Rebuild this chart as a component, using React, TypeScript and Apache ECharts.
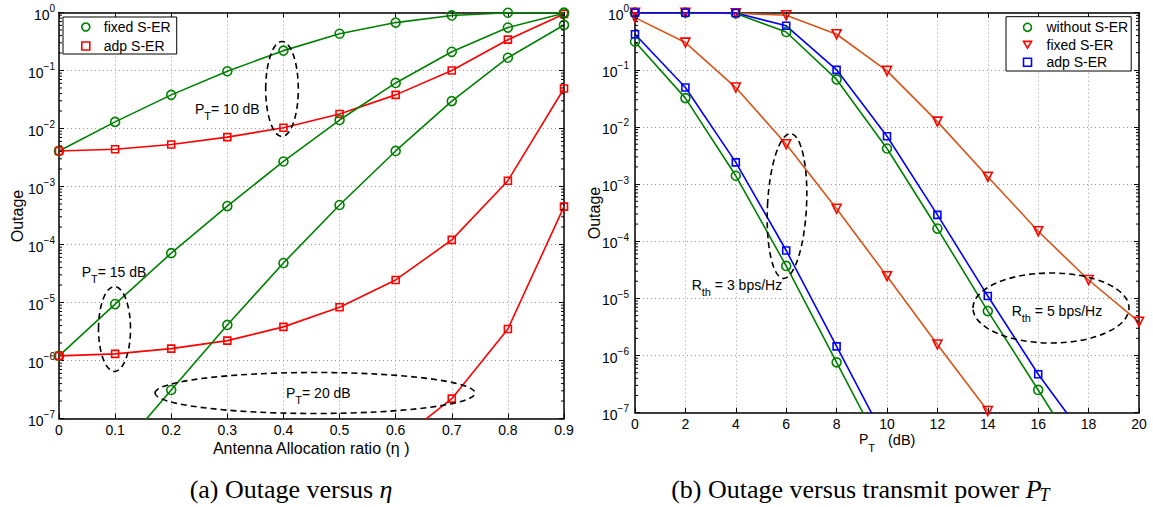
import React, { useEffect, useRef } from "react";
import * as echarts from "echarts";

// ---------- data ----------
const ETA = [0, 0.1, 0.2, 0.3, 0.4, 0.5, 0.6, 0.7, 0.8, 0.9];
// left panel (outage vs eta), three transmit powers
const FIXED_PT10 = [4.1e-3, 1.3e-2, 3.8e-2, 9.7e-2, 0.22, 0.43, 0.67, 0.89, 0.99, 1.0];
const ADP_PT10 = [4.1e-3, 4.4e-3, 5.3e-3, 7.1e-3, 1.03e-2, 1.78e-2, 3.8e-2, 0.1, 0.34, 0.94];
const FIXED_PT15 = [1.2e-6, 9.4e-6, 7.1e-5, 4.6e-4, 2.7e-3, 1.4e-2, 6.1e-2, 0.21, 0.55, 0.97];
const ADP_PT15 = [1.2e-6, 1.3e-6, 1.6e-6, 2.2e-6, 3.8e-6, 8.3e-6, 2.45e-5, 1.2e-4, 1.26e-3, 4.9e-2];
const FIXED_PT20 = [null, 2.3e-8, 3.1e-7, 4.1e-6, 4.8e-5, 4.8e-4, 4.1e-3, 2.97e-2, 0.166, 0.61];
const ADP_PT20 = [null, null, null, null, null, null, 3.8e-8, 2.2e-7, 3.5e-6, 4.5e-4];

const PT = [0, 2, 4, 6, 8, 10, 12, 14, 16, 18, 20];
// right panel (outage vs P_T), two rate thresholds
const WITHOUT_R3 = [0.31, 0.032, 1.4e-3, 3.7e-5, 7.6e-7, 1.55e-8, null, null, null, null, null];
const FIXED_R3 = [0.82, 0.3, 0.049, 5.0e-3, 3.7e-4, 2.45e-5, 1.56e-6, 1.07e-7, null, null, null];
const ADP_R3 = [0.42, 0.049, 2.4e-3, 6.9e-5, 1.45e-6, 3.0e-8, null, null, null, null, null];
const WITHOUT_R5 = [1.0, 1.0, 0.97, 0.46, 0.068, 4.2e-3, 1.67e-4, 6.0e-6, 2.5e-7, 1.0e-8, null];
const FIXED_R5 = [1.0, 1.0, 0.98, 0.9, 0.42, 0.096, 1.24e-2, 1.35e-3, 1.5e-4, 2.1e-5, 3.9e-6];
const ADP_R5 = [1.0, 1.0, 0.99, 0.59, 0.1, 6.9e-3, 2.9e-4, 1.1e-5, 4.7e-7, 3.0e-8, null];

const SANS = "'Liberation Sans', Arial, Helvetica, sans-serif";
const SERIF = "'Liberation Serif', 'Times New Roman', serif";
const GREEN = "#008000";
const RED = "#ff0000";
const BLUE = "#0000ff";
const ORANGE = "#d95319";
const TRI = "path://M0,0L10,0L5,8.66Z";

function pairs(xs: number[], ys: (number | null)[]) {
  return xs.map((x, i) => [x, ys[i]]).filter((p) => p[1] != null);
}

let measureCtx: CanvasRenderingContext2D | null = null;
function tw(text: string, size: number, family: string, italic = false) {
  if (!measureCtx) measureCtx = document.createElement("canvas").getContext("2d");
  measureCtx!.font = `${italic ? "italic " : ""}${size}px ${family}`;
  return measureCtx!.measureText(text).width;
}

function txt(x: number, y: number, text: string, size: number, family = SANS, italic = false, align = "left") {
  return {
    type: "text",
    x,
    y,
    z: 100,
    style: {
      text,
      fontSize: size,
      fontFamily: family,
      fontStyle: italic ? "italic" : "normal",
      fill: "#000",
      align,
      verticalAlign: "middle",
    },
  };
}

function subLabel(x: number, yc: number, main: string, sub: string, rest: string, size = 14, subSize = 11, dy = 7) {
  const w1 = tw(main, size, SANS);
  const w2 = tw(sub, subSize, SANS);
  const out: any[] = [txt(x, yc, main, size), txt(x + w1, yc + dy, sub, subSize)];
  if (rest) out.push(txt(x + w1 + w2, yc, rest, size));
  return out;
}

function ellipse(cx: number, cy: number, rx: number, ry: number, rotation = 0) {
  return {
    type: "ellipse",
    x: cx,
    y: cy,
    rotation,
    z: 90,
    shape: { cx: 0, cy: 0, rx, ry },
    style: { fill: "none", stroke: "#000", lineWidth: 1.6, lineDash: [6, 4] },
  };
}

const axisLineStyle = { show: true, onZero: false, lineStyle: { color: "#000", width: 1.5 } };
const tickStyle = { show: true, inside: true, length: 5, lineStyle: { color: "#000", width: 1 } };
const gridLine = { show: true, lineStyle: { color: "#9a9a9a", width: 1, type: [1, 3] } };

function logLabel(v: number) {
  const e = Math.round(Math.log10(v));
  return `{b|10}{s|${e < 0 ? "\u2212" : ""}${Math.abs(e)}}`;
}
const logRich = {
  b: { fontSize: 14, fontFamily: SANS, color: "#000", lineHeight: 18, verticalAlign: "bottom" },
  s: { fontSize: 10, fontFamily: SANS, color: "#000", lineHeight: 10, verticalAlign: "top" },
};

function xAxes(grid: number, min: number, max: number, interval: number, fmt: (v: number) => string) {
  return [
    {
      gridIndex: grid,
      type: "value",
      min,
      max,
      interval,
      position: "bottom",
      axisLine: axisLineStyle,
      axisTick: tickStyle,
      axisLabel: { show: true, fontSize: 14, fontFamily: SANS, color: "#000", margin: 4, formatter: fmt },
      splitLine: gridLine,
    },
    {
      gridIndex: grid,
      type: "value",
      min,
      max,
      interval,
      position: "top",
      axisLine: axisLineStyle,
      axisTick: tickStyle,
      axisLabel: { show: false },
      splitLine: { show: false },
    },
  ];
}

function yAxes(grid: number, margin: number) {
  return [
    {
      gridIndex: grid,
      type: "log",
      logBase: 10,
      min: 1e-7,
      max: 1,
      splitNumber: 7,
      position: "left",
      axisLine: axisLineStyle,
      axisTick: tickStyle,
      axisLabel: { show: true, margin, formatter: logLabel, rich: logRich },
      splitLine: gridLine,
    },
    {
      gridIndex: grid,
      type: "log",
      logBase: 10,
      min: 1e-7,
      max: 1,
      splitNumber: 7,
      position: "right",
      axisLine: axisLineStyle,
      axisTick: tickStyle,
      axisLabel: { show: false },
      splitLine: { show: false },
    },
  ];
}

function lineSeries(name: string, xi: number, data: any[], lineColor: string, markColor: string, symbol: string, size: number) {
  return {
    type: "line",
    name,
    xAxisIndex: xi,
    yAxisIndex: xi,
    data,
    clip: true,
    symbol,
    symbolSize: size,
    showAllSymbol: true,
    lineStyle: { color: lineColor, width: 1.6 },
    itemStyle: { color: "rgba(0,0,0,0)", borderColor: markColor, borderWidth: 1.6 },
    emphasis: { disabled: true },
    z: 3,
  };
}

function minorTicks(axisIndex: number) {
  return {
    type: "custom",
    xAxisIndex: axisIndex,
    yAxisIndex: axisIndex,
    data: [[0, 1]],
    silent: true,
    clip: false,
    z: 6,
    renderItem: (params: any, api: any) => {
      const cs = params.coordSys;
      const children: any[] = [];
      for (let k = -7; k < 0; k++) {
        for (let m = 2; m < 10; m++) {
          const y = api.coord([0, m * Math.pow(10, k)])[1];
          children.push({ type: "line", shape: { x1: cs.x, y1: y, x2: cs.x + 3, y2: y }, style: { stroke: "#000", lineWidth: 1 } });
          children.push({
            type: "line",
            shape: { x1: cs.x + cs.width - 3, y1: y, x2: cs.x + cs.width, y2: y },
            style: { stroke: "#000", lineWidth: 1 },
          });
        }
      }
      return { type: "group", children };
    },
  };
}

function legendItem(name: string, icon: string, color: string) {
  return { name, icon, itemStyle: { color: "rgba(0,0,0,0)", borderColor: color, borderWidth: 1.6 } };
}

export default function App() {
  const ref = useRef<HTMLDivElement>(null);
  useEffect(() => {
    const chart = echarts.init(ref.current!, undefined, { renderer: "svg" });

    const CAP = 26;
    const capA = "(a) Outage versus ";
    const capB = "(b) Outage versus transmit power ";
    const capAX = 225 - tw("(a) ", CAP, SERIF);
    const capBX = 708 - tw("(b) ", CAP, SERIF);
    const capAW = tw(capA, CAP, SERIF);
    const capBW = tw(capB, CAP, SERIF);
    const pItW = tw("P", CAP, SERIF, true);
    const capY = 489;

    const graphic: any[] = [
      ellipse(282, 89, 16.3, 47.5),
      ellipse(114.5, 329, 16, 42.5),
      ellipse(315, 393, 160, 20.5),
      ellipse(787, 206, 19.5, 72.5, -0.05),
      ellipse(1051, 308, 78, 35),
      ...subLabel(195, 109, "P", "T", "= 10 dB"),
      ...subLabel(81.7, 272.3, "P", "T", "= 15 dB"),
      ...subLabel(286, 393.3, "P", "T", "= 20 dB"),
      ...subLabel(691.7, 285, "R", "th", " = 3 bps/Hz"),
      ...subLabel(1011.7, 310.7, "R", "th", " = 5 bps/Hz"),
      { ...txt(17, 216, "Outage", 16, SANS, false, "center"), rotation: Math.PI / 2 },
      { ...txt(594, 213, "Outage", 16, SANS, false, "center"), rotation: Math.PI / 2 },
      txt(311.2, 448.3, "Antenna Allocation ratio (\u03b7 )", 16, SANS, false, "center"),
      ...subLabel(859, 439, "P", "T", "", 14, 11, 9),
      txt(888, 440, "(dB)", 14.5),
      txt(capAX, capY, capA, CAP, SERIF),
      txt(capAX + capAW, capY, "\u03b7", CAP, SERIF, true),
      txt(capBX, capY, capB, CAP, SERIF),
      txt(capBX + capBW, capY, "P", CAP, SERIF, true),
      txt(capBX + capBW + pItW - 2, capY + 6, "T", 18, SERIF, true),
    ];

    const option: any = {
      animation: false,
      backgroundColor: "#fff",
      grid: [
        { left: 59, top: 12.5, width: 505, height: 406, containLabel: false },
        { left: 635, top: 12.7, width: 504, height: 400, containLabel: false },
      ],
      xAxis: [
        ...xAxes(0, 0, 0.9, 0.1, (v: number) => (Math.abs(v) < 1e-9 ? "0" : v.toFixed(1))),
        ...xAxes(1, 0, 20, 2, (v: number) => String(Math.round(v))),
      ],
      yAxis: [...yAxes(0, 4), ...yAxes(1, 6)],
      legend: [
        {
          orient: "vertical",
          left: 63,
          top: 17,
          padding: [3, 6, 1, 18],
          itemWidth: 8,
          itemHeight: 8,
          itemGap: 5,
          backgroundColor: "#fff",
          borderColor: "#000",
          borderWidth: 1,
          borderRadius: 0,
          selectedMode: false,
          textStyle: { fontSize: 14, fontFamily: SANS, color: "#000", lineHeight: 14, padding: [0, 0, 0, 9] },
          data: [legendItem("fixed S-ER", "circle", GREEN), legendItem("adp S-ER", "rect", RED)],
          z: 20,
        },
        {
          orient: "vertical",
          left: 1006,
          top: 16.7,
          padding: [3.6, 3, 1.7, 16.7],
          itemWidth: 8,
          itemHeight: 8,
          itemGap: 3.5,
          backgroundColor: "#fff",
          borderColor: "#000",
          borderWidth: 1,
          borderRadius: 0,
          selectedMode: false,
          formatter: (n: string) => n.trim(),
          textStyle: { fontSize: 14, fontFamily: SANS, color: "#000", lineHeight: 14, padding: [0, 0, 0, 10] },
          data: [
            legendItem("without S-ER", "circle", GREEN),
            legendItem("fixed S-ER ", TRI, RED),
            legendItem("adp S-ER ", "rect", BLUE),
          ],
          z: 20,
        },
      ],
      graphic,
      series: [
        minorTicks(0),
        minorTicks(2),
        lineSeries("fixed S-ER", 0, pairs(ETA, FIXED_PT10), GREEN, GREEN, "circle", 9),
        lineSeries("adp S-ER", 0, pairs(ETA, ADP_PT10), RED, RED, "rect", 7),
        lineSeries("fixed S-ER", 0, pairs(ETA, FIXED_PT15), GREEN, GREEN, "circle", 9),
        lineSeries("adp S-ER", 0, pairs(ETA, ADP_PT15), RED, RED, "rect", 7),
        lineSeries("fixed S-ER", 0, pairs(ETA, FIXED_PT20), GREEN, GREEN, "circle", 9),
        lineSeries("adp S-ER", 0, pairs(ETA, ADP_PT20), RED, RED, "rect", 7),
        lineSeries("without S-ER", 2, pairs(PT, WITHOUT_R3), GREEN, GREEN, "circle", 9),
        lineSeries("fixed S-ER ", 2, pairs(PT, FIXED_R3), ORANGE, RED, TRI, 9),
        lineSeries("adp S-ER ", 2, pairs(PT, ADP_R3), BLUE, BLUE, "rect", 7),
        lineSeries("without S-ER", 2, pairs(PT, WITHOUT_R5), GREEN, GREEN, "circle", 9),
        lineSeries("fixed S-ER ", 2, pairs(PT, FIXED_R5), ORANGE, RED, TRI, 9),
        lineSeries("adp S-ER ", 2, pairs(PT, ADP_R5), BLUE, BLUE, "rect", 7),
      ],
    };
    chart.setOption(option);
    return () => chart.dispose();
  }, []);
  return <div ref={ref} style={{ position: "fixed", left: 0, top: 0, width: 1153, height: 507, background: "#fff" }} />;
}
